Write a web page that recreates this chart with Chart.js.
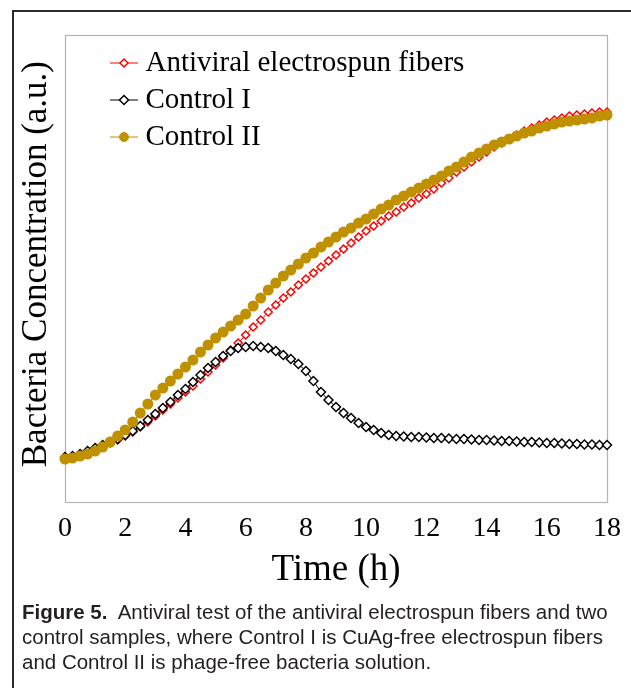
<!DOCTYPE html>
<html>
<head>
<meta charset="utf-8">
<script src="https://cdn.jsdelivr.net/npm/chart.js@4.4.1/dist/chart.umd.min.js"></script>
<style>
  html, body { margin: 0; padding: 0; background: #fff; overflow: hidden; }
  body { width: 631px; height: 688px; position: relative; }
  #frame { position: absolute; left: 12px; top: 10px; width: 640px; height: 700px; border: 2px solid #2b2b2b; }
  #chart { position: absolute; left: 0; top: 0; }
  #caption {
    position: absolute; left: 22px; top: 599px;
    font-family: "Liberation Sans", Arial, Helvetica, sans-serif;
    font-size: 20.5px; line-height: 25px; color: #231f20; white-space: nowrap;
  }
</style>
</head>
<body>
<div id="frame"></div>
<canvas id="chart" width="631" height="600"></canvas>
<div id="caption"><b>Figure 5.</b>&nbsp; Antiviral test of the antiviral electrospun fibers and two<br>control samples, where Control I is CuAg-free electrospun fibers<br>and Control II is phage-free bacteria solution.</div>
<script>
// time points (h), one every 15 min
var hours = [0, 0.25, 0.5, 0.75, 1, 1.25, 1.5, 1.75, 2, 2.25, 2.5, 2.75, 3, 3.25, 3.5, 3.75,
  4, 4.25, 4.5, 4.75, 5, 5.25, 5.5, 5.75, 6, 6.25, 6.5, 6.75, 7, 7.25, 7.5, 7.75,
  8, 8.25, 8.5, 8.75, 9, 9.25, 9.5, 9.75, 10, 10.25, 10.5, 10.75, 11, 11.25, 11.5, 11.75,
  12, 12.25, 12.5, 12.75, 13, 13.25, 13.5, 13.75, 14, 14.25, 14.5, 14.75, 15, 15.25, 15.5, 15.75,
  16, 16.25, 16.5, 16.75, 17, 17.25, 17.5, 17.75, 18];

// bacteria concentration (a.u.)
var antiviral = [0.45, 0.46, 0.48, 0.50, 0.53, 0.56, 0.59, 0.62, 0.66, 0.70,
  0.75, 0.80, 0.86, 0.92, 0.98, 1.04, 1.10, 1.16, 1.23, 1.30,
  1.37, 1.44, 1.52, 1.59, 1.67, 1.75, 1.82, 1.90, 1.97, 2.04,
  2.10, 2.17, 2.23, 2.29, 2.35, 2.41, 2.47, 2.53, 2.59, 2.65,
  2.71, 2.76, 2.81, 2.86, 2.90, 2.95, 2.99, 3.04, 3.08, 3.13,
  3.19, 3.24, 3.30, 3.35, 3.40, 3.45, 3.50, 3.55, 3.59, 3.63,
  3.67, 3.71, 3.74, 3.77, 3.80, 3.82, 3.84, 3.86, 3.87, 3.88,
  3.89, 3.90, 3.90];

var controlI = [0.45, 0.46, 0.48, 0.51, 0.54, 0.57, 0.60, 0.63, 0.67, 0.71,
  0.76, 0.82, 0.88, 0.94, 1.00, 1.07, 1.13, 1.20, 1.27, 1.34,
  1.40, 1.46, 1.51, 1.54, 1.55, 1.56, 1.55, 1.54, 1.51, 1.47,
  1.43, 1.38, 1.31, 1.21, 1.10, 1.02, 0.95, 0.89, 0.84, 0.79,
  0.75, 0.72, 0.69, 0.67, 0.66, 0.655, 0.65, 0.65, 0.645, 0.64,
  0.64, 0.635, 0.63, 0.63, 0.625, 0.62, 0.62, 0.615, 0.61, 0.61,
  0.605, 0.60, 0.60, 0.595, 0.59, 0.59, 0.585, 0.58, 0.58, 0.575,
  0.575, 0.57, 0.57];

var controlII = [0.43, 0.44, 0.46, 0.48, 0.51, 0.55, 0.60, 0.66, 0.72, 0.80,
  0.89, 0.98, 1.07, 1.14, 1.21, 1.28, 1.35, 1.42, 1.50, 1.57,
  1.64, 1.70, 1.76, 1.82, 1.88, 1.96, 2.04, 2.12, 2.19, 2.26,
  2.32, 2.38, 2.44, 2.49, 2.55, 2.60, 2.65, 2.70, 2.74, 2.79,
  2.83, 2.88, 2.93, 2.97, 3.02, 3.06, 3.10, 3.14, 3.18, 3.22,
  3.26, 3.31, 3.35, 3.40, 3.45, 3.49, 3.53, 3.57, 3.60, 3.63,
  3.66, 3.69, 3.71, 3.74, 3.76, 3.78, 3.80, 3.81, 3.82, 3.83,
  3.84, 3.86, 3.87];

var seriesNames = ['Antiviral electrospun fibers', 'Control I', 'Control II'];
var xTicks = [0, 2, 4, 6, 8, 10, 12, 14, 16, 18];

function points(ys) {
  return hours.map(function (h, i) { return {x: h, y: ys[i]}; });
}

// small line + marker picture for the legend
function legendIcon(color, style, r, fill, bw) {
  var c = document.createElement('canvas');
  c.width = 72; c.height = 16;
  var g = c.getContext('2d');
  g.strokeStyle = color; g.lineWidth = 1;
  g.beginPath(); g.moveTo(44, 8); g.lineTo(72, 8); g.stroke();
  g.fillStyle = fill;
  g.lineWidth = bw;
  g.beginPath();
  if (style === 'circle') {
    g.arc(58, 8, r, 0, Math.PI * 2);
  } else {
    g.moveTo(58, 8 - r); g.lineTo(58 + r, 8); g.lineTo(58, 8 + r); g.lineTo(58 - r, 8); g.closePath();
  }
  g.fill(); g.stroke();
  return c;
}

var icons = [
  legendIcon('#ff0000', 'rectRot', 4, '#fff', 1.5),
  legendIcon('#000000', 'rectRot', 4.5, '#fff', 1.5),
  legendIcon('#bf9000', 'circle', 4.5, '#bf9000', 1)
];

// grey box round the plot area
var plotBox = {
  id: 'plotBox',
  beforeDatasetsDraw: function (chart) {
    var a = chart.chartArea, ctx = chart.ctx;
    ctx.save();
    ctx.strokeStyle = '#b3b3b3';
    ctx.lineWidth = 1.2;
    ctx.strokeRect(a.left + 0.5, a.top + 0.5, a.right - a.left, a.bottom - a.top);
    ctx.restore();
  }
};

Chart.defaults.font.family = "'Liberation Serif', 'Times New Roman', serif";
Chart.defaults.color = '#000';

new Chart(document.getElementById('chart'), {
  type: 'line',
  data: {
    datasets: [{
      label: seriesNames[0],
      data: points(antiviral),
      borderColor: '#ff0000', borderWidth: 1,
      pointStyle: 'rectRot', pointRadius: 4, pointBorderWidth: 1.5,
      pointBackgroundColor: '#fff', pointBorderColor: '#ff0000',
      order: 3, clip: 8
    }, {
      label: seriesNames[1],
      data: points(controlI),
      borderColor: '#000', borderWidth: 1,
      pointStyle: 'rectRot', pointRadius: 4.5, pointBorderWidth: 1.5,
      pointBackgroundColor: '#fff', pointBorderColor: '#000',
      order: 2, clip: 8
    }, {
      label: seriesNames[2],
      data: points(controlII),
      borderColor: '#bf9000', borderWidth: 1,
      pointStyle: 'circle', pointRadius: 5.5, pointBorderWidth: 0,
      pointBackgroundColor: '#bf9000', pointBorderColor: '#bf9000',
      order: 1, clip: 8
    }]
  },
  options: {
    responsive: false,
    animation: false,
    devicePixelRatio: 1,
    layout: {padding: {left: 13, top: 35, right: 15, bottom: 0}},
    elements: {line: {tension: 0}},
    plugins: {
      tooltip: {enabled: false},
      legend: {
        position: 'chartArea',
        align: 'start',
        // empty title only pushes the entries down from the top of the plot
        title: {display: true, text: '', font: {size: 1}, padding: {top: 0, bottom: 39.3}},
        labels: {
          usePointStyle: true,
          pointStyleWidth: 58,
          padding: 8,
          font: {size: 29},
          color: '#000',
          generateLabels: function (chart) {
            return chart.data.datasets.map(function (ds, i) {
              return {text: ds.label, pointStyle: icons[i], fillStyle: ds.borderColor,
                strokeStyle: ds.borderColor, lineWidth: 1, hidden: false, datasetIndex: i, fontColor: '#000'};
            });
          }
        }
      }
    },
    scales: {
      x: {
        type: 'linear', min: 0, max: 18,
        afterBuildTicks: function (s) { s.ticks = xTicks.map(function (v) { return {value: v}; }); },
        afterFit: function (s) { s.height = 98; },
        grid: {display: false, drawTicks: false},
        border: {display: false},
        ticks: {padding: 10, font: {size: 28}, color: '#000'},
        title: {display: true, text: 'Time (h)', font: {size: 37}, color: '#000', padding: {top: 0, bottom: 8}}
      },
      y: {
        min: 0, max: 4.67,
        afterFit: function (s) { s.width = 52; },
        grid: {display: false, drawTicks: false},
        border: {display: false},
        ticks: {display: false},
        title: {display: true, text: ' Bacteria Concentration (a.u.)', font: {size: 35}, color: '#000', padding: {top: 3, bottom: 0}}
      }
    }
  },
  plugins: [plotBox]
});
</script>
</body>
</html>
